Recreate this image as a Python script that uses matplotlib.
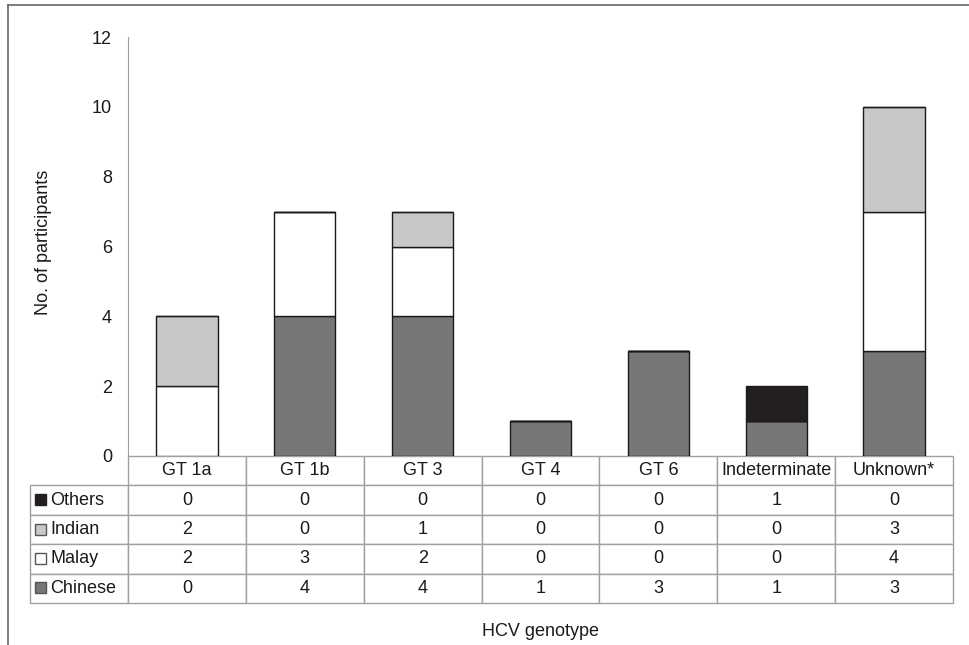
import matplotlib
matplotlib.use('Agg')
import matplotlib.pyplot as plt
from matplotlib.patches import Rectangle
from matplotlib.lines import Line2D

plt.rcParams['font.family'] = ['Liberation Sans', 'DejaVu Sans']

genotypes = ['GT 1a', 'GT 1b', 'GT 3', 'GT 4', 'GT 6', 'Indeterminate', 'Unknown*']
chinese = [0, 4, 4, 1, 3, 1, 3]
malay = [2, 3, 2, 0, 0, 0, 4]
indian = [2, 0, 1, 0, 0, 0, 3]
others = [0, 0, 0, 0, 0, 1, 0]

# stacking order, bottom first
series = [('Chinese', chinese, '#77777a'),
          ('Malay', malay, '#ffffff'),
          ('Indian', indian, '#c8c8c8'),
          ('Others', others, '#231f20')]

FS = 13
W, H = 969, 645
AX_W, AX_H = 825, 419
fig = plt.figure(figsize=(W / 100, H / 100), dpi=100)
ax = fig.add_axes([128 / W, 1 - 456 / H, AX_W / W, AX_H / H])

x = list(range(len(genotypes)))
bottom = [0] * len(genotypes)
for name, vals, col in series:
    ax.bar(x, vals, 0.52, bottom=bottom, color=col, edgecolor='#1a1a1a', linewidth=1, zorder=3)
    bottom = [b + v for b, v in zip(bottom, vals)]

ax.set_xlim(-0.5, len(genotypes) - 0.5)
ax.set_ylim(0, 12)
ax.set_yticks(range(0, 13, 2))
ax.set_xticks([])
ax.tick_params(axis='y', length=0, pad=11.5, labelsize=FS, colors='#1a1a1a')
for s in ['top', 'right', 'bottom']:
    ax.spines[s].set_visible(False)
ax.spines['left'].set_color('#a0a0a0')

# data table under the plot, legend keys in the row label column
edge = '#a0a0a0'
lab_w = 98 / AX_W
row_h = 29.4 / AX_H
rows = list(reversed(series))
cell_text = [[str(v) for v in vals] for name, vals, col in rows]
tb = ax.table(cellText=cell_text, rowLabels=[r[0] for r in rows],
              colLabels=genotypes, cellLoc='center', rowLoc='left',
              bbox=[0, -row_h * (len(rows) + 1), 1, row_h * (len(rows) + 1)])
tb._autoColumns = []
tb.auto_set_font_size(False)
tb.set_fontsize(FS)
for (r, c), cell in tb.get_celld().items():
    cell.set_edgecolor(edge)
    cell.set_linewidth(1)
    cell.get_text().set_color('#1a1a1a')
    if c == -1:
        cell.set_width(lab_w)
        cell.PAD = 20 / 98

# legend keys
for i, (name, vals, col) in enumerate(rows, start=1):
    yc = 456 + 29.4 * i + 29.4 / 2
    ec = '#231f20' if name == 'Others' else '#555555'
    fig.patches.append(Rectangle((35 / W, 1 - (yc + 5) / H), 11 / W, 11 / H,
                                 transform=fig.transFigure, facecolor=col,
                                 edgecolor=ec, linewidth=1, zorder=5))

fig.text(540 / W, 1 - 632 / H, 'HCV genotype', ha='center', va='center', fontsize=FS, color='#1a1a1a')
fig.text(44 / W, 1 - 242 / H, 'No. of participants', ha='center', va='center',
         rotation=90, fontsize=FS, color='#1a1a1a')

# frame lines of the cropped figure (top and left)
fig.lines.append(Line2D([8 / W, 1], [1 - 5 / H, 1 - 5 / H], transform=fig.transFigure, color='#666666', lw=1.2))
fig.lines.append(Line2D([8 / W, 8 / W], [0, 1 - 5 / H], transform=fig.transFigure, color='#666666', lw=1.2))

fig.savefig('out.png', dpi=100)
